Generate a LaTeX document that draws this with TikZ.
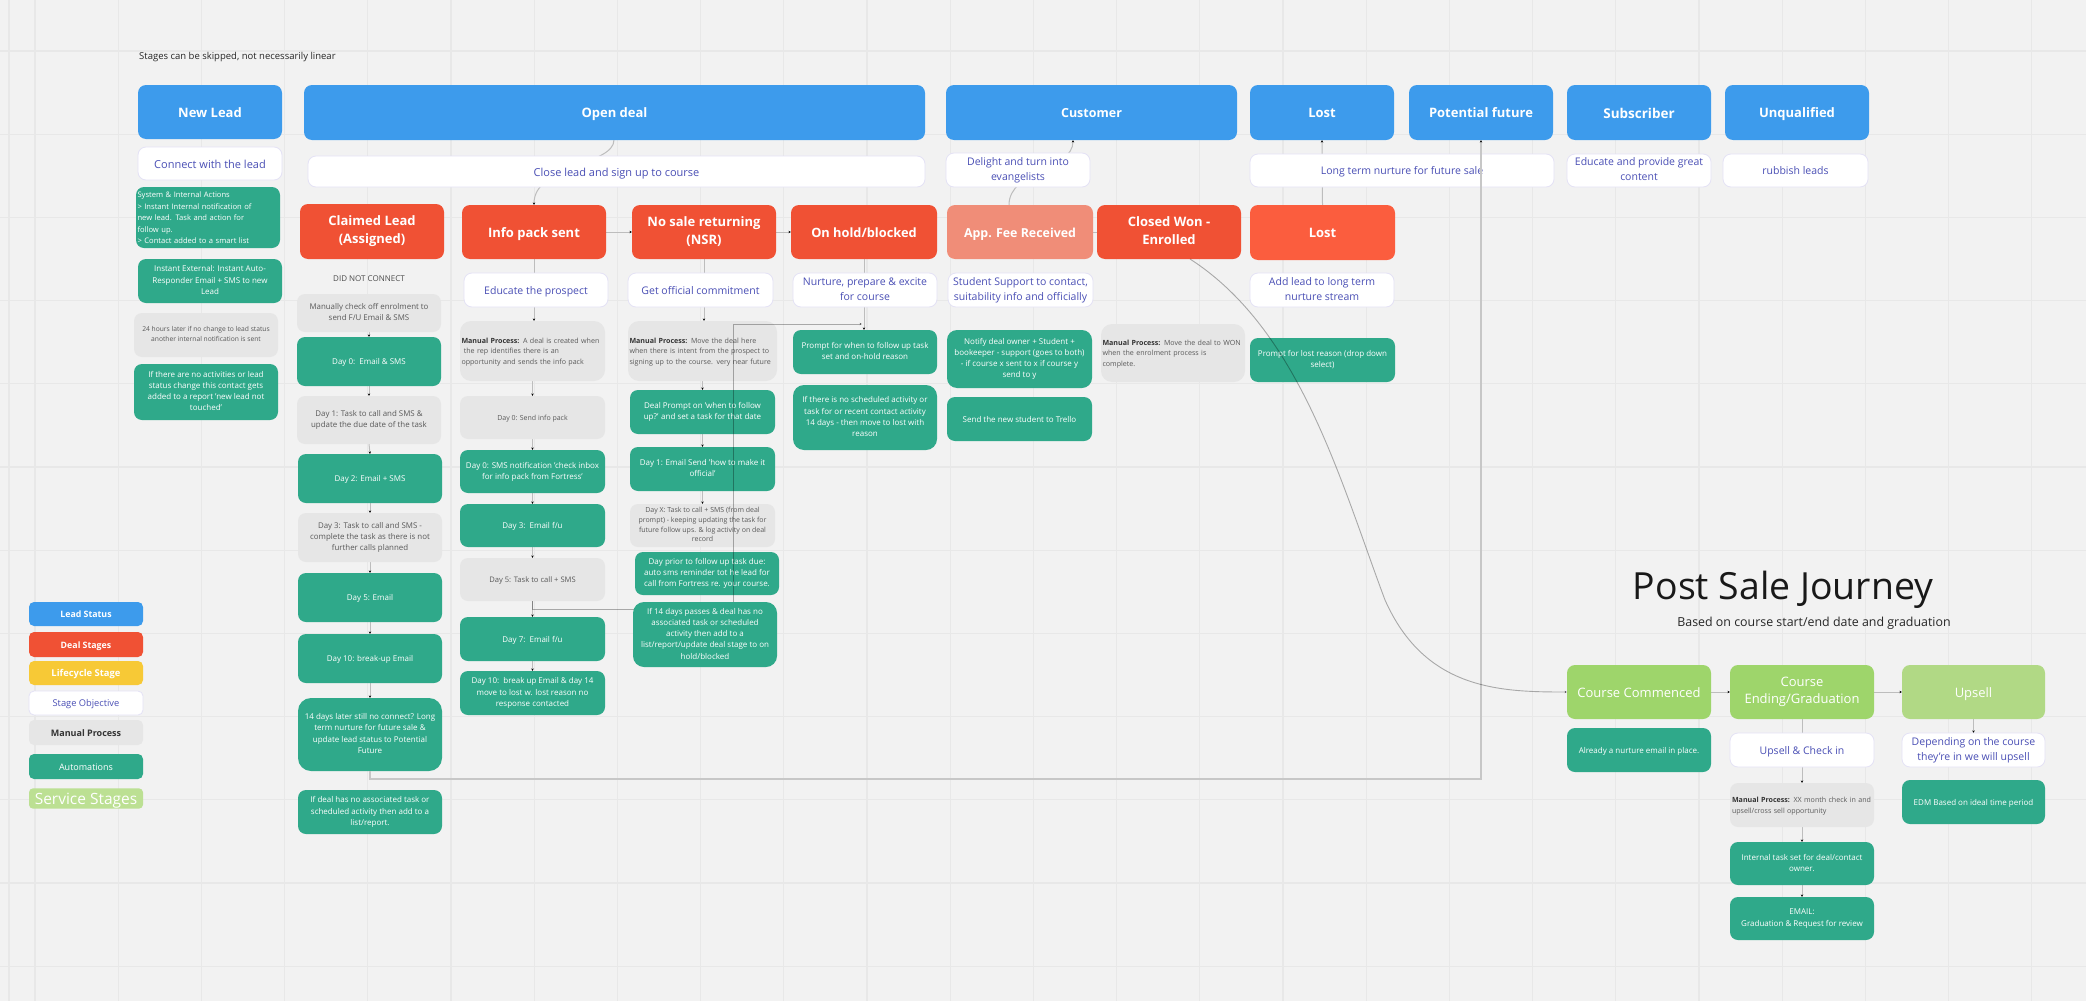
\documentclass[tikz,border=0pt]{standalone}
\usepackage{fontspec}
\setmainfont{Open Sans}
\usetikzlibrary{arrows.meta}
\definecolor{cBg}{HTML}{F2F2F2}
\definecolor{cGrid}{HTML}{E8E8E8}
\definecolor{cBlue}{HTML}{3D9BEC}
\definecolor{cRed}{HTML}{F05134}
\definecolor{cPale}{HTML}{F08D78}
\definecolor{cLost}{HTML}{FB5D3E}
\definecolor{cGreen}{HTML}{2FA98A}
\definecolor{cGray}{HTML}{E6E6E6}
\definecolor{cLime}{HTML}{9ED56B}
\definecolor{cLime2}{HTML}{B1D985}
\definecolor{cLime3}{HTML}{BCE093}
\definecolor{cYellow}{HTML}{F7C936}
\definecolor{cInk}{HTML}{4A4FB5}
\definecolor{cEdge}{HTML}{E4E2F5}
\definecolor{cLine}{HTML}{BDBDBD}
\pgfdeclarelayer{gridl}
\pgfdeclarelayer{conn}
\pgfsetlayers{gridl,conn,main}
\newcommand{\fz}[2]{\fontsize{#1}{#2}\selectfont}
\newcommand{\mpb}[1]{{\bfseries\color{black!80}#1}}
\newcommand{\bx}[6]{\node[boxbase,minimum width={(#4-#2)*1pt},minimum height={(#5-#3)*1pt},#1] (#6) at ({(#2+#4)/2},{(#3+#5)/2})}
\tikzset{
  x=1pt,y=-1pt,
  boxbase/.style={rounded corners=8pt,inner sep=0pt,align=center,outer sep=0pt,
    execute at begin node={\leavevmode\rule[-.24em]{0pt}{1.31em}},
    execute at end node={\rule[-.24em]{0pt}{.24em}}},
  stBlue/.style={fill=cBlue,text=white,font=\fz{13}{18}\bfseries},
  stRed/.style={fill=cRed,text=white,font=\fz{13}{18}\bfseries},
  stObj/.style={fill=white,draw=cEdge,line width=0.8pt,text=cInk,font=\fz{10.5}{15}},
  stAuto/.style={fill=cGreen,text=white,font=\fz{8}{11.2}},
  stManual/.style={fill=cGray,text=black!65,font=\fz{7.6}{10.8}},
  stLeft/.style={align=left,text width=#1},
  stLime/.style={text=white,font=\fz{13}{17.5}},
  gridline/.style={draw=cGrid,line width=1.2pt},
  wire/.style={draw=cLine,line width=1pt,-{Stealth[length=2.6pt,width=2.4pt,black]}},
  wirePlain/.style={draw=cLine,line width=1pt},
  wireTop/.style={draw=black,draw opacity=.3,line width=.9pt,-{Stealth[length=2.6pt,width=2.4pt,black]}},
  wireLong/.style={draw=cLine!85!white,line width=1.3pt,-{Stealth[length=2.6pt,width=2.4pt,black]}},
}
\begin{document}
\begin{tikzpicture}
\useasboundingbox (0,0) rectangle (2086,1001);
\begin{pgfonlayer}{gridl}
\fill[cBg] (0,0) rectangle (2086,1001);
\foreach \k in {0,...,24} \draw[gridline] ({35+83.2*\k},0) -- ({35+83.2*\k},1001);
\draw[gridline] (9,0) -- (9,1001);
\foreach \k in {0,...,11} \draw[gridline] (0,{51+83.2*\k}) -- (2086,{51+83.2*\k});
\end{pgfonlayer}

\node[anchor=west,inner sep=0pt,text=black!85,font=\fz{9.5}{11}] (note) at (139,57) {Stages can be skipped, not necessarily linear};

% top row
\bx{stBlue}{138}{85}{282}{139}{newlead} {New Lead};
\bx{stBlue}{304}{85}{925}{140}{opendeal} {Open deal};
\bx{stBlue,font=\fz{12.5}{18}\bfseries}{946}{85}{1237}{140}{customer} {Customer};
\bx{stBlue}{1250}{85}{1394}{140}{lostblue} {Lost};
\bx{stBlue}{1409}{85}{1553}{140}{potential} {Potential future};
\bx{stBlue,font=\fz{13.5}{18}\bfseries}{1567}{85}{1711}{140}{subscriber} {Subscriber};
\bx{stBlue}{1725}{85}{1869}{140}{unqual} {Unqualified};
% objectives row 1
\bx{stObj,font=\fz{11}{15}}{138}{147}{282}{180}{connect} {Connect with the lead};
\bx{stObj,font=\fz{11}{15}}{308}{156}{925}{187}{closelead} {Close lead and sign up to course};
\bx{stObj}{946}{153}{1090}{187}{delight} {Delight and turn into\\evangelists};
\bx{stObj}{1250}{154}{1554}{187}{longterm} {Long term nurture for future sale};
\bx{stObj}{1567}{154}{1711}{187}{educate} {Educate and provide great\\content};
\bx{stObj}{1723}{154}{1868}{187}{rubbish} {rubbish leads};
% new lead column
\bx{stAuto,stLeft=141pt,font=\fz{7.6}{11.5}}{136}{187}{280}{248}{sysint} {System \& Internal Actions\\> Instant Internal notification of\\new lead. Task and action for\\follow up.\\> Contact added to a smart list};
\bx{stAuto}{138}{259}{282}{303}{instext} {Instant External: Instant Auto-\\Responder Email + SMS to new\\Lead};
\bx{stManual,font=\fz{6.7}{10}}{134}{313}{278}{357}{hours} {24 hours later if no change to lead status\\another internal notification is sent};
\bx{stAuto}{134}{364}{278}{420}{noact} {If there are no activities or lead\\status change this contact gets\\added to a report 'new lead not\\touched'};
% deal stages
\bx{stRed}{300}{204}{444}{259}{claimed} {Claimed Lead\\(Assigned)};
\bx{stRed}{462}{205}{606}{259}{infopack} {Info pack sent};
\bx{stRed}{632}{205}{776}{259}{nsr} {No sale returning\\(NSR)};
\bx{stRed,font=\fz{12.8}{18}\bfseries}{791}{205}{937}{259}{onhold} {On hold/blocked};
\bx{stRed,fill=cPale,font=\fz{12.4}{18}\bfseries}{947}{205}{1093}{259}{appfee} {App. Fee Received};
\bx{stRed}{1097}{205}{1241}{259}{closedwon} {Closed Won -\\Enrolled};
\bx{stRed,fill=cLost}{1250}{205}{1395}{260}{lostred} {Lost};
% objectives row 2
\bx{stObj}{464}{273}{608}{307}{objedu} {Educate the prospect};
\bx{stObj}{628}{273}{773}{307}{objget} {Get official commitment};
\bx{stObj}{793}{273}{937}{307}{objnur} {Nurture, prepare \& excite\\for course};
\bx{stObj}{948}{273}{1093}{307}{objstu} {Student Support to contact,\\suitability info and officially};
\bx{stObj}{1250}{273}{1394}{307}{objadd} {Add lead to long term\\nurture stream};
% claimed column
\node[inner sep=0pt,text=black!70,font=\fz{8}{11}] (dnc) at (369,279) {DID NOT CONNECT};
\bx{stManual,font=\fz{7.9}{11}}{297}{294}{441}{332}{c0} {Manually check off enrolment to\\send F/U Email \& SMS};
\bx{stAuto}{297}{337}{441}{386}{c1} {Day 0:\ \ Email \& SMS};
\bx{stManual,font=\fz{7.9}{11}}{297}{396}{441}{444}{c2} {Day 1: Task to call and SMS \&\\update the due date of the task};
\bx{stAuto}{298}{454}{442}{503}{c3} {Day 2: Email + SMS};
\bx{stManual,font=\fz{7.9}{11}}{298}{513}{442}{562}{c4} {Day 3: Task to call and SMS -\\complete the task as there is not\\further calls planned};
\bx{stAuto}{298}{573}{442}{622}{c5} {Day 5: Email};
\bx{stAuto}{298}{634}{442}{683}{c6} {Day 10: break-up Email};
\bx{stAuto,rounded corners=13pt}{298}{698}{442}{771}{c7} {14 days later still no connect? Long\\term nurture for future sale \&\\update lead status to Potential\\Future};
\bx{stAuto}{298}{790}{442}{834}{c8} {If deal has no associated task or\\scheduled activity then add to a\\list/report.};
% info pack column
\bx{stManual,rounded corners=11pt,stLeft=142pt,font=\fz{7.1}{10.2}}{460}{321}{605}{381}{i0} {\mpb{Manual Process:} A deal is created when\\\ the rep identifies there is an\\opportunity and sends the info pack};
\bx{stManual,font=\fz{7}{10}}{460}{396}{605}{439}{i1} {Day 0: Send info pack};
\bx{stAuto}{460}{450}{605}{493}{i2} {Day 0: SMS notification 'check inbox\\for info pack from Fortress'};
\bx{stAuto}{460}{504}{605}{547}{i3} {Day 3:\ \ Email f/u};
\bx{stManual,font=\fz{7.6}{11}}{460}{558}{605}{601}{i4} {Day 5: Task to call + SMS};
\bx{stAuto}{460}{617}{605}{661}{i5} {Day 7:\ \ Email f/u};
\bx{stAuto}{460}{671}{605}{715}{i6} {Day 10:\ \ break up Email \& day 14\\move to lost w. lost reason no\\response contacted};
% nsr column
\bx{stManual,rounded corners=11pt,stLeft=146pt,font=\fz{7.1}{10.2}}{628}{321}{777}{381}{n0} {\mpb{Manual Process:} Move the deal here\\when there is intent from the prospect to\\signing up to the course. very near future};
\bx{stAuto}{630}{390}{775}{434}{n1} {Deal Prompt on 'when to follow\\up?' and set a task for that date};
\bx{stAuto,font=\fz{8}{10.2}}{630}{447}{775}{491}{n2} {Day 1: Email Send 'how to make it\\official'};
\bx{stManual,font=\fz{7}{9.7}}{630}{504}{775}{547}{n3} {Day X: Task to call + SMS (from deal\\prompt) - keeping updating the task for\\future follow ups. \& log activity on deal\\record};
\bx{stAuto}{635}{552}{779}{595}{n4} {Day prior to follow up task due:\\auto sms reminder tot he lead for\\call from Fortress re. your course.};
% on hold column
\bx{stAuto}{793}{330}{937}{374}{h1} {Prompt for when to follow up task\\set and on-hold reason};
\bx{stAuto,rounded corners=11pt}{793}{385}{937}{450}{h2} {If there is no scheduled activity or\\task for or recent contact activity\\14 days - then move to lost with\\reason};
% app fee column
\bx{stAuto,rounded corners=10pt}{947}{330}{1092}{388}{a1} {Notify deal owner + Student +\\bookeeper - support (goes to both)\\- if course x sent to x if course y\\send to y};
\bx{stAuto}{947}{397}{1092}{441}{a2} {Send the new student to Trello};
\bx{stManual,rounded corners=11pt,stLeft=141pt,font=\fz{7.1}{10.2}}{1101}{324}{1245}{382}{w1} {\mpb{Manual Process:} Move the deal to WON\\when the enrolment process is\\complete.};
\bx{stAuto}{1250}{338}{1395}{382}{l1} {Prompt for lost reason (drop down\\select)};
% legend
\bx{stBlue,rounded corners=5pt,font=\fz{8.8}{11}\bfseries}{29}{602}{143}{626}{lg1} {Lead Status};
\bx{stRed,rounded corners=5pt,font=\fz{8.8}{11}\bfseries}{29}{632}{143}{657}{lg2} {Deal Stages};
\bx{stRed,fill=cYellow,rounded corners=5pt,font=\fz{9.4}{11}\bfseries}{29}{661}{143}{685}{lg3} {Lifecycle Stage};
\bx{stObj,rounded corners=5pt,font=\fz{9.3}{11}}{29}{691}{143}{715}{lg4} {Stage Objective};
\bx{stManual,rounded corners=5pt,text=black!80,font=\fz{9}{11}\bfseries}{29}{720}{143}{745}{lg5} {Manual Process};
\bx{stAuto,rounded corners=5pt,font=\fz{9}{11}}{29}{754}{143}{779}{lg6} {Automations};
\bx{stLime,fill=cLime3,rounded corners=4pt,font=\fz{15.5}{17}}{29}{789}{143}{808}{lg7} {Service Stages};
% post sale
\node[inner sep=0pt,text=black!90,font=\fz{37.4}{44}] (pstitle) at (1783,590) {Post Sale Journey};
\node[inner sep=0pt,text=black!85,font=\fz{12.4}{15}] (pssub) at (1814,623) {Based on course start/end date and graduation};
\bx{stLime,fill=cLime}{1567}{665}{1711}{719}{commenced} {Course Commenced};
\bx{stLime,fill=cLime}{1730}{665}{1874}{719}{ending} {Course\\Ending/Graduation};
\bx{stLime,fill=cLime2}{1902}{665}{2045}{719}{upsell} {Upsell};
\bx{stAuto}{1567}{728}{1711}{772}{already} {Already a nurture email in place.};
\bx{stObj}{1730}{733}{1874}{767}{objups} {Upsell \& Check in};
\bx{stObj}{1902}{733}{2045}{767}{objdep} {Depending on the course\\they're in we will upsell};
\bx{stManual,stLeft=140pt,font=\fz{7.1}{10.2}}{1730}{783}{1874}{827}{u1} {\mpb{Manual Process:} XX month check in and\\upsell/cross sell opportunity};
\bx{stAuto}{1730}{842}{1874}{885}{u2} {Internal task set for deal/contact\\owner.};
\bx{stAuto,font=\fz{8}{11.5}}{1730}{897}{1874}{940}{u3} {EMAIL:\\Graduation \& Request for review};
\bx{stAuto}{1902}{780}{2045}{824}{edm} {EDM Based on ideal time period};

% connectors beneath the boxes
\coordinate (openOut) at (614,140);
\coordinate (feeOut) at (1009,205);
\coordinate (custIn) at (1073,140);
\begin{pgfonlayer}{conn}
\draw[wire] (openOut) .. controls (614,165) and (534,165) .. (infopack.north);
\draw[wire] (c0.south) -- (c1.north);
\draw[wire] (c1.south) -- (c2.north);
\draw[wire] (c2.south) -- (c3.north);
\draw[wire] (c3.south) -- (c4.north);
\draw[wire] (c4.south) -- (c5.north);
\draw[wire] (c5.south) -- (c6.north);
\draw[wire] (c6.south) -- (c7.north);
\draw[wire] (infopack.south) -- (infopack.south |- i0.north);
\draw[wire] (i0.south) -- (i1.north);
\draw[wire] (i1.south) -- (i2.north);
\draw[wire] (i2.south) -- (i3.north);
\draw[wire] (i3.south) -- (i4.north);
\draw[wire] (i4.south) -- (i5.north);
\draw[wire] (i5.south) -- (i6.north);
\draw[wire] (nsr.south) -- (nsr.south |- n0.north);
\draw[wire] (n0.south) -- (n0.south |- n1.north);
\draw[wire] (n1.south) -- (n2.north);
\draw[wire] (n2.south) -- (n3.north);
\draw[wire] (infopack.east) -- (nsr.west);
\draw[wire] (nsr.east) -- (onhold.west);
\draw[wire] (onhold.south) -- (onhold.south |- h1.north);
\draw[wirePlain] (appfee.east) -- (closedwon.west);
\draw[wire] (feeOut) .. controls (1009,170) and (1073,170) .. (custIn);
\draw[wire] (lostred.north) -- (lostblue.south);
\draw[wire] (commenced.east) -- (ending.west);
\draw[wire] (ending.east) -- (upsell.west);
\draw[wire] (ending.south) -- (u1.north);
\draw[wire] (u1.south) -- (u2.north);
\draw[wire] (u2.south) -- (u3.north);
\draw[wire] (upsell.south) -- (objdep.north);
\end{pgfonlayer}
% connectors over the boxes
\coordinate (jogA) at (733,609);
\coordinate (jogB) at (733,324);
\coordinate (jogC) at (862,324);
\draw[wireTop] (i4.south) |- (jogA) -- (jogB) -- (jogC);
\bx{stAuto,rounded corners=11pt}{633}{602}{777}{667}{n5} {If 14 days passes \& deal has no\\associated task or scheduled\\activity then add to a\\list/report/update deal stage to on\\hold/blocked};
\coordinate (farA) at (370,779);
\coordinate (farB) at (1481,779);
\draw[wireLong] (c7.south) -- (farA) -- (farB) -- (farB |- potential.south);
\coordinate (wonOut) at (1190,259);
\coordinate (wonMid) at (1385,600);
\draw[wireTop] (wonOut) .. controls (1300,330) and (1340,480) .. (wonMid) .. controls (1425,690) and (1500,692) .. (commenced.west);
\end{tikzpicture}
\end{document}
